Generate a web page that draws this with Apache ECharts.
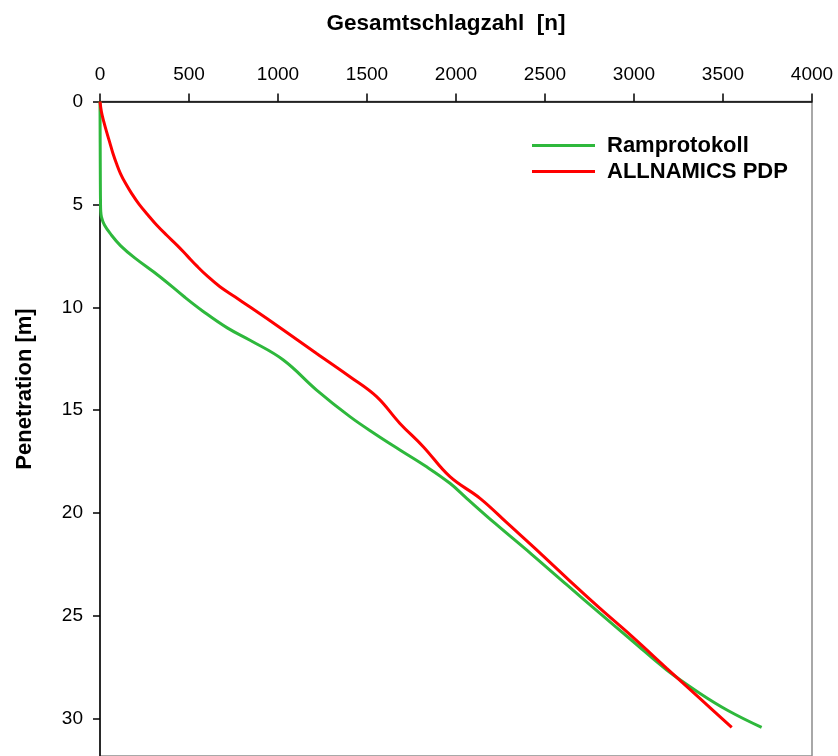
<!DOCTYPE html>
<html>
<head>
<meta charset="utf-8">
<script src="https://cdn.jsdelivr.net/npm/echarts@6/dist/echarts.min.js"></script>
<style>
html,body{margin:0;padding:0;background:#fff;}
#chart{width:838px;height:756px;}
</style>
</head>
<body>
<div id="chart"></div>
<script>
// Titles / tick settings
var xTitle = 'Gesamtschlagzahl  [n]';
var yTitle = 'Penetration [m]';
var seriesNames = ['Ramprotokoll', 'ALLNAMICS PDP'];

// Ramprotokoll (green): depth [m] and cumulative blow count
var greenDepth = [0, 2, 4, 5.0, 5.3, 5.6, 6.0, 6.5, 7.0, 7.6, 8.5, 9.5, 10.2, 11.0, 11.6, 12.56, 14.02, 15.31, 16.2, 16.93, 17.75, 18.55, 19.28, 20.5, 22.0, 23.5, 24.87, 26.2, 27.62, 28.76, 29.6, 30.41];
var greenBlows = [0, 1, 2, 3, 4, 8, 25, 65, 115, 195, 335, 475, 580, 715, 843, 1030, 1217, 1404, 1554, 1685, 1835, 1966, 2060, 2220, 2425, 2625, 2809, 2990, 3184, 3371, 3530, 3717];

// ALLNAMICS PDP (red)
var redDepth = [0, 0.5, 1.0, 1.5, 2.0, 2.5, 3.0, 3.5, 4.0, 4.5, 5.0, 5.5, 6.0, 6.5, 7.0, 7.5, 8.0, 8.5, 9.0, 9.5, 10.0, 11.1, 12.24, 13.37, 14.34, 15.64, 16.77, 18.23, 19.28, 20.5, 22.0, 23.5, 24.63, 26.0, 27.54, 29.0, 30.41];
var redBlows = [0, 8, 22, 38, 55, 72, 92, 115, 145, 180, 220, 268, 318, 375, 435, 490, 545, 605, 674, 760, 845, 1030, 1217, 1404, 1554, 1685, 1816, 1966, 2135, 2290, 2480, 2665, 2809, 2990, 3184, 3370, 3549];

// Axis extents / tick steps
var xMax = 4000, xStep = 500;
var yMax = 31.8, yStep = 5;

function pairs(xs, ys) {
  return xs.map(function (v, i) { return [v, ys[i]]; });
}

var FONT = "'Liberation Sans', Arial, sans-serif";
var chart = echarts.init(document.getElementById('chart'), null, {renderer: 'canvas'});
chart.setOption({
  animation: false,
  backgroundColor: '#ffffff',
  grid: {
    left: 100, top: 101.5, right: 26, bottom: 0,
    show: true, borderColor: '#8c8c8c', borderWidth: 1.5, backgroundColor: 'transparent'
  },
  xAxis: {
    type: 'value', position: 'top', min: 0, max: xMax, interval: xStep,
    axisLine: {show: true, lineStyle: {color: '#000', width: 1.5}},
    axisTick: {show: true, inside: false, length: 8, lineStyle: {color: '#000', width: 1.5}},
    axisLabel: {color: '#000', fontFamily: FONT, fontSize: 19, margin: 17, formatter: function (v) { return String(v); }},
    splitLine: {show: false}
  },
  yAxis: {
    type: 'value', inverse: true, min: 0, max: yMax, interval: yStep,
    axisLine: {show: true, onZero: false, lineStyle: {color: '#000', width: 1.5}},
    axisTick: {show: true, inside: false, length: 7, lineStyle: {color: '#000', width: 1.5}},
    axisLabel: {color: '#000', fontFamily: FONT, fontSize: 19, margin: 17, showMaxLabel: false, formatter: function (v) { return String(v); }},
    splitLine: {show: false}
  },
  legend: {
    orient: 'vertical', left: 527, top: 129.5,
    icon: 'rect', itemWidth: 63, itemHeight: 3, itemGap: 4,
    textStyle: {fontFamily: FONT, fontSize: 22, fontWeight: 'bold', color: '#000', lineHeight: 22, padding: [0, 0, 0, 7]},
    data: seriesNames
  },
  graphic: [
    {type: 'text', x: 446, y: 24, style: {text: xTitle, font: 'bold 22.5px ' + FONT, fill: '#000', textAlign: 'center', textVerticalAlign: 'middle'}},
    {type: 'text', x: 25, y: 389, rotation: Math.PI / 2, style: {text: yTitle, font: 'bold 22px ' + FONT, fill: '#000', textAlign: 'center', textVerticalAlign: 'middle'}}
  ],
  series: [
    {
      name: seriesNames[0], type: 'line', data: pairs(greenBlows, greenDepth),
      showSymbol: false, smooth: 0.4, color: '#2eb83c',
      lineStyle: {color: '#2eb83c', width: 3}
    },
    {
      name: seriesNames[1], type: 'line', data: pairs(redBlows, redDepth),
      showSymbol: false, smooth: 0.4, color: '#ff0000',
      lineStyle: {color: '#ff0000', width: 3}
    }
  ]
});
</script>
</body>
</html>
